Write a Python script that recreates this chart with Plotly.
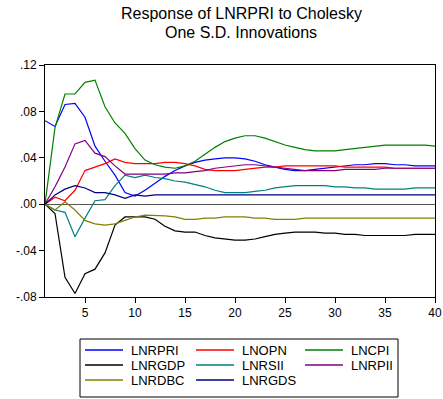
import plotly.graph_objects as go

periods = list(range(1, 41))

lnrpri = [0.072, 0.067, 0.086, 0.087, 0.075, 0.050, 0.037, 0.025, 0.010, 0.007,
          0.012, 0.018, 0.024, 0.029, 0.033, 0.036, 0.038, 0.039, 0.040, 0.040,
          0.039, 0.037, 0.034, 0.032, 0.030, 0.029, 0.029, 0.030, 0.031, 0.032,
          0.033, 0.034, 0.034, 0.035, 0.035, 0.034, 0.034, 0.033, 0.033, 0.033]
lnopn = [0.000, 0.006, 0.003, 0.012, 0.029, 0.032, 0.035, 0.039, 0.036, 0.035,
         0.035, 0.035, 0.036, 0.036, 0.035, 0.033, 0.030, 0.029, 0.029, 0.029,
         0.030, 0.031, 0.032, 0.032, 0.033, 0.033, 0.033, 0.033, 0.033, 0.033,
         0.032, 0.032, 0.032, 0.032, 0.032, 0.031, 0.031, 0.031, 0.031, 0.031]
lncpi = [0.000, 0.066, 0.095, 0.095, 0.105, 0.107, 0.084, 0.070, 0.061, 0.048,
         0.038, 0.034, 0.032, 0.031, 0.033, 0.037, 0.043, 0.049, 0.054, 0.057,
         0.059, 0.059, 0.057, 0.054, 0.051, 0.049, 0.047, 0.046, 0.046, 0.046,
         0.047, 0.048, 0.049, 0.050, 0.051, 0.051, 0.051, 0.051, 0.051, 0.050]
lnrgdp = [0.000, -0.008, -0.063, -0.077, -0.060, -0.056, -0.042, -0.018, -0.011, -0.011,
          -0.011, -0.013, -0.019, -0.023, -0.024, -0.024, -0.027, -0.029, -0.030, -0.031,
          -0.031, -0.030, -0.028, -0.026, -0.025, -0.024, -0.024, -0.024, -0.025, -0.025,
          -0.026, -0.026, -0.027, -0.027, -0.027, -0.027, -0.027, -0.026, -0.026, -0.026]
lnrsii = [0.000, -0.005, -0.007, -0.028, -0.012, 0.003, 0.004, 0.016, 0.025, 0.023,
          0.025, 0.023, 0.022, 0.020, 0.019, 0.017, 0.015, 0.012, 0.010, 0.010,
          0.010, 0.011, 0.012, 0.014, 0.015, 0.016, 0.016, 0.016, 0.016, 0.015,
          0.015, 0.014, 0.014, 0.013, 0.013, 0.013, 0.013, 0.014, 0.014, 0.014]
lnrpii = [0.000, 0.015, 0.032, 0.052, 0.055, 0.044, 0.041, 0.033, 0.026, 0.026,
          0.026, 0.026, 0.026, 0.027, 0.027, 0.028, 0.029, 0.031, 0.032, 0.033,
          0.034, 0.034, 0.033, 0.032, 0.031, 0.030, 0.029, 0.029, 0.029, 0.029,
          0.030, 0.030, 0.030, 0.030, 0.031, 0.031, 0.031, 0.031, 0.031, 0.031]
lnrdbc = [0.000, -0.005, 0.002, -0.005, -0.014, -0.017, -0.018, -0.017, -0.014, -0.011,
          -0.0095, -0.0095, -0.010, -0.011, -0.013, -0.013, -0.012, -0.012, -0.011, -0.011,
          -0.011, -0.012, -0.012, -0.013, -0.013, -0.013, -0.012, -0.012, -0.012, -0.012,
          -0.012, -0.012, -0.012, -0.012, -0.012, -0.012, -0.012, -0.012, -0.012, -0.012]
lnrgds = [0.000, 0.008, 0.013, 0.016, 0.014, 0.010, 0.010, 0.008, 0.005, 0.008,
          0.007, 0.008, 0.008, 0.008, 0.008, 0.008, 0.008, 0.008, 0.008, 0.008,
          0.008, 0.008, 0.008, 0.008, 0.008, 0.008, 0.008, 0.008, 0.008, 0.008,
          0.008, 0.008, 0.008, 0.008, 0.008, 0.008, 0.008, 0.008, 0.008, 0.008]

series_names = ["LNRPRI", "LNOPN", "LNCPI", "LNRGDP", "LNRSII", "LNRPII", "LNRDBC", "LNRGDS"]
series_values = [lnrpri, lnopn, lncpi, lnrgdp, lnrsii, lnrpii, lnrdbc, lnrgds]
series_colors = ["#0000FF", "#FF0000", "#008000", "#000000", "#008080", "#800080", "#808000", "#000080"]

title_lines = ["Response of LNRPRI to Cholesky", "One S.D. Innovations"]

y_tickvals = [-0.08, -0.04, 0.0, 0.04, 0.08, 0.12]
y_ticktext = ["-.08", "-.04", ".00", ".04", ".08", ".12"]
x_tickvals = [5, 10, 15, 20, 25, 30, 35, 40]

W, H = 443, 399
ML, MR, MT, MB = 45, 8, 65, 102
PW, PH = W - ML - MR, H - MT - MB


def px_x(p):
    return (p - ML) / PW


def px_y(p):
    return (H - MB - p) / PH


fig = go.Figure()
for name, vals, col in zip(series_names, series_values, series_colors):
    fig.add_trace(go.Scatter(x=periods, y=vals, mode="lines", name=name,
                             line=dict(color=col, width=1.2), showlegend=False))

font_family = "Liberation Sans, Arial, sans-serif"

# title lines
for i, line in enumerate(title_lines):
    fig.add_annotation(text=line, xref="paper", yref="paper",
                       x=px_x(241), xanchor="center",
                       y=px_y(13 + 20 * i), yanchor="middle",
                       showarrow=False,
                       font=dict(size=16, family=font_family, color="black"))

# legend box (drawn in pixel layout below the plot)
fig.add_shape(type="rect", xref="paper", yref="paper",
              x0=px_x(80), x1=px_x(398), y0=px_y(397), y1=px_y(339),
              line=dict(color="black", width=1), fillcolor="white")
col_line_x = [85, 196, 305]
row_y = [350, 365, 380]
for k, (name, col) in enumerate(zip(series_names, series_colors)):
    r, c = divmod(k, 3)
    lx = col_line_x[c]
    yy = row_y[r]
    fig.add_shape(type="line", xref="paper", yref="paper",
                  x0=px_x(lx), x1=px_x(lx + 38), y0=px_y(yy), y1=px_y(yy),
                  line=dict(color=col, width=1.5))
    fig.add_annotation(text=name, xref="paper", yref="paper",
                       x=px_x(lx + 44), xanchor="left", y=px_y(yy), yanchor="middle",
                       showarrow=False,
                       font=dict(size=13, family=font_family, color="black"))

fig.update_layout(
    width=W, height=H,
    margin=dict(l=ML, r=MR, t=MT, b=MB, autoexpand=False),
    paper_bgcolor="white", plot_bgcolor="white",
    font=dict(family=font_family, size=12, color="black"),
    showlegend=False,
    xaxis=dict(range=[1, 40], tickvals=x_tickvals, ticks="outside", ticklen=5,
               tickcolor="black", showline=True, linecolor="black", linewidth=1,
               mirror=True, showgrid=False, zeroline=False),
    yaxis=dict(range=[-0.08, 0.12], tickvals=y_tickvals, ticktext=y_ticktext,
               ticks="outside", ticklen=5, tickcolor="black", showline=True,
               linecolor="black", linewidth=1, mirror=True, showgrid=False,
               zeroline=True, zerolinecolor="#555555", zerolinewidth=1),
)

fig.write_html("out.html")
